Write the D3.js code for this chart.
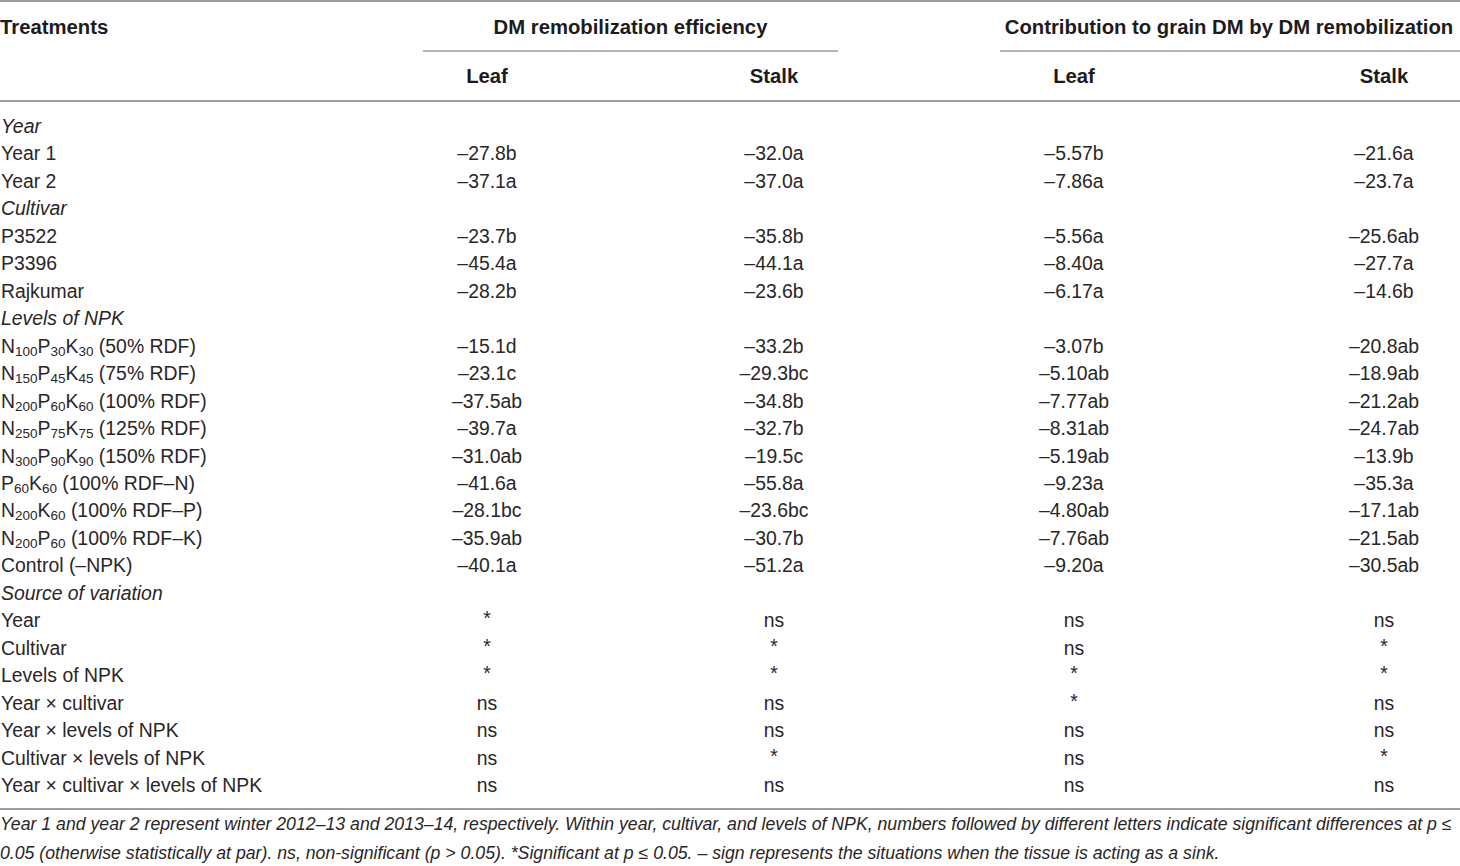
<!DOCTYPE html>
<html>
<head>
<meta charset="utf-8">
<title>DM remobilization table</title>
<script src="https://d3js.org/d3.v7.min.js"></script>
<style>
  body { margin: 0; background: #fff; }
  svg { display: block; }
  text { font-family: "Liberation Sans", Arial, sans-serif; fill: #2a2627; }
  .hd { font-weight: bold; font-size: 20.3px; fill: #1e1b1c; }
  .cell { font-size: 19.4px; }
  .sect { font-style: italic; }
  .note { font-style: italic; font-size: 17.7px; }
  .rule { stroke: #9d9d9d; stroke-width: 2; }
</style>
</head>
<body>
<svg width="1460" height="866"></svg>
<script>
// ---- data ----
var sections = ["Year", "Cultivar", "Levels of NPK"];
var sectionRows = [
  ["Year 1", "Year 2"],
  ["P3522", "P3396", "Rajkumar"],
  ["N{100}P{30}K{30} (50% RDF)", "N{150}P{45}K{45} (75% RDF)", "N{200}P{60}K{60} (100% RDF)",
   "N{250}P{75}K{75} (125% RDF)", "N{300}P{90}K{90} (150% RDF)", "P{60}K{60} (100% RDF–N)",
   "N{200}K{60} (100% RDF–P)", "N{200}P{60} (100% RDF–K)", "Control (–NPK)"]
];
var groups = ["DM remobilization efficiency", "Contribution to grain DM by DM remobilization"];
var columns = ["Leaf", "Stalk", "Leaf", "Stalk"];

var leafEff      = [-27.8, -37.1, -23.7, -45.4, -28.2, -15.1, -23.1, -37.5, -39.7, -31.0, -41.6, -28.1, -35.9, -40.1];
var leafEffSig   = ["b", "a", "b", "a", "b", "d", "c", "ab", "a", "ab", "a", "bc", "ab", "a"];
var stalkEff     = [-32.0, -37.0, -35.8, -44.1, -23.6, -33.2, -29.3, -34.8, -32.7, -19.5, -55.8, -23.6, -30.7, -51.2];
var stalkEffSig  = ["a", "a", "b", "a", "b", "b", "bc", "b", "b", "c", "a", "bc", "b", "a"];
var leafCon      = [-5.57, -7.86, -5.56, -8.40, -6.17, -3.07, -5.10, -7.77, -8.31, -5.19, -9.23, -4.80, -7.76, -9.20];
var leafConSig   = ["b", "a", "a", "a", "a", "b", "ab", "ab", "ab", "ab", "a", "ab", "ab", "a"];
var stalkCon     = [-21.6, -23.7, -25.6, -27.7, -14.6, -20.8, -18.9, -21.2, -24.7, -13.9, -35.3, -17.1, -21.5, -30.5];
var stalkConSig  = ["a", "a", "ab", "a", "b", "ab", "ab", "ab", "ab", "b", "a", "ab", "ab", "ab"];

var sourceTitle = "Source of variation";
var sources = ["Year", "Cultivar", "Levels of NPK", "Year × cultivar", "Year × levels of NPK",
               "Cultivar × levels of NPK", "Year × cultivar × levels of NPK"];
var sigLeafEff  = ["*", "*", "*", "ns", "ns", "ns", "ns"];
var sigStalkEff = ["ns", "*", "*", "ns", "ns", "*", "ns"];
var sigLeafCon  = ["ns", "ns", "*", "*", "ns", "ns", "ns"];
var sigStalkCon = ["ns", "*", "*", "ns", "ns", "*", "ns"];

var notes = [
  "Year 1 and year 2 represent winter 2012–13 and 2013–14, respectively. Within year, cultivar, and levels of NPK, numbers followed by different letters indicate significant differences at p ≤",
  "0.05 (otherwise statistically at par). ns, non-significant (p > 0.05). *Significant at p ≤ 0.05. – sign represents the situations when the tissue is acting as a sink."
];

// ---- build rows ----
var f1 = d3.format(".1f"), f2 = d3.format(".2f");
var fmt = (v, f, s) => "–" + f(Math.abs(v)) + s;
var rows = [];
var k = 0;
sections.forEach((s, i) => {
  rows.push({label: s, italic: true, cells: []});
  sectionRows[i].forEach(r => {
    rows.push({label: r, cells: [
      fmt(leafEff[k], f1, leafEffSig[k]), fmt(stalkEff[k], f1, stalkEffSig[k]),
      fmt(leafCon[k], f2, leafConSig[k]), fmt(stalkCon[k], f1, stalkConSig[k])]});
    k++;
  });
});
rows.push({label: sourceTitle, italic: true, cells: []});
sources.forEach((s, i) => {
  rows.push({label: s, cells: [sigLeafEff[i], sigStalkEff[i], sigLeafCon[i], sigStalkCon[i]]});
});

// ---- layout ----
var svg = d3.select("svg");
var y = d3.scaleLinear().domain([0, rows.length - 1]).range([126, 785]);
var x = d3.scaleOrdinal().domain(d3.range(4)).range([487, 774, 1074, 1384]);
var gx = d3.scaleOrdinal().domain(d3.range(2)).range([[423, 838], [1000, 1460]]);

// rules
svg.selectAll(".hrule").data([1, 101, 809]).enter().append("line")
  .attr("class", "rule").attr("x1", 0).attr("x2", 1460)
  .attr("y1", d => d).attr("y2", d => d);
svg.selectAll(".grule").data(groups).enter().append("line")
  .attr("class", "rule")
  .attr("x1", (d, i) => gx(i)[0]).attr("x2", (d, i) => gx(i)[1])
  .attr("y1", 51).attr("y2", 51)
  .style("stroke-width", 1.6);

// header
svg.append("text").attr("class", "hd").attr("x", 0).attr("y", 27)
  .attr("dominant-baseline", "central").text("Treatments");
svg.selectAll(".grp").data(groups).enter().append("text")
  .attr("class", "hd").attr("text-anchor", "middle").attr("dominant-baseline", "central")
  .attr("x", (d, i) => (gx(i)[0] + gx(i)[1]) / 2 + (i === 1 ? -1 : 0)).attr("y", 27)
  .text(d => d);
svg.selectAll(".col").data(columns).enter().append("text")
  .attr("class", "hd").attr("text-anchor", "middle").attr("dominant-baseline", "central")
  .attr("x", (d, i) => x(i)).attr("y", 76).text(d => d);

// body
var row = svg.selectAll(".row").data(rows).enter().append("g")
  .attr("transform", (d, i) => `translate(0,${y(i)})`);

row.append("text")
  .attr("class", d => "cell" + (d.italic ? " sect" : ""))
  .attr("x", 1).attr("dominant-baseline", "central")
  .each(function(d) {
    var t = d3.select(this);
    var parts = d.label.split(/(\{[^}]*\})/).filter(p => p.length);
    var lowered = false;
    parts.forEach(p => {
      if (p[0] === "{") {
        t.append("tspan").attr("font-size", "13.5px").attr("dy", lowered ? 0 : 5).text(p.slice(1, -1));
        lowered = true;
      } else {
        t.append("tspan").attr("dy", lowered ? -5 : 0).text(p);
        lowered = false;
      }
    });
  });

row.selectAll(".v").data(d => d.cells).enter().append("text")
  .attr("class", "cell")
  .attr("x", (d, i) => x(i)).attr("text-anchor", "middle").attr("dominant-baseline", "central")
  .attr("font-size", d => d === "*" ? "15px" : null)
  .attr("dy", d => d === "*" ? -2 : 0)
  .text(d => d);

// notes
svg.selectAll(".note").data(notes).enter().append("text")
  .attr("class", "note").attr("x", 0).attr("y", (d, i) => 824 + i * 29)
  .attr("dominant-baseline", "central").text(d => d);
</script>
</body>
</html>
